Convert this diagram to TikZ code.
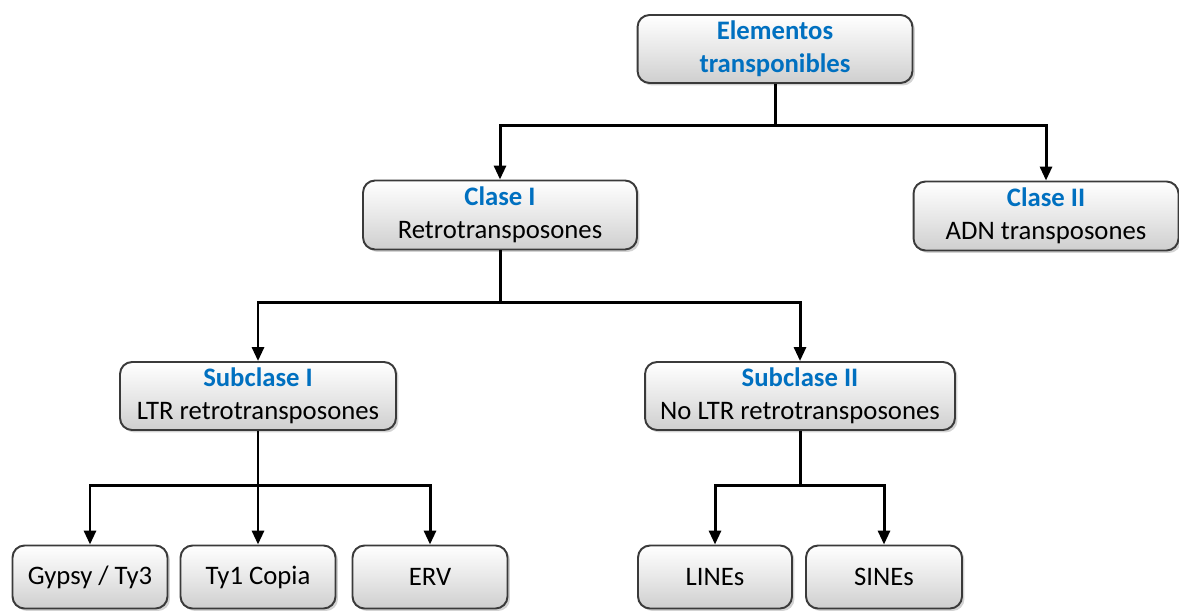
\documentclass[tikz,border=0pt]{standalone}
\usepackage{fontspec}
\setmainfont{Carlito}
\usetikzlibrary{arrows.meta,shadows}

\definecolor{titleblue}{HTML}{0070C0}
\definecolor{boxline}{HTML}{3A3A3A}

\tikzset{
  tebox/.style={draw=boxline, line width=1.1pt, rounded corners=0.24cm,
    top color=white, bottom color=gray!38, middle color=gray!18,
    drop shadow={shadow xshift=0.05cm, shadow yshift=-0.05cm, opacity=0.35},
    align=center, inner sep=0pt, font=\fontsize{15.2}{18.8}\selectfont},
  link/.style={line width=1.7pt, black},
  arrow/.style={link, -{Triangle[length=0.28cm, width=0.24cm]}}
}
\newcommand{\tetitle}[1]{\textbf{\color{titleblue}#1}}

\begin{document}
\begin{tikzpicture}[x=0.02cm, y=-0.02cm]
    \useasboundingbox (0,0) rectangle (1179,611);

    % nodos
    \node[tebox, minimum width=5.5cm, minimum height=1.36cm] (elem) at (775,49) {\tetitle{Elementos}\\\tetitle{transponibles}};
    \node[tebox, minimum width=5.48cm, minimum height=1.38cm] (claseI) at (500,215) {\tetitle{Clase I}\\Retrotransposones};
    \node[tebox, minimum width=5.3cm, minimum height=1.38cm] (claseII) at (1046,216) {\tetitle{Clase II}\\ADN transposones};
    \node[tebox, minimum width=5.52cm, minimum height=1.36cm] (subI) at (258,396) {\tetitle{Subclase I}\\LTR retrotransposones};
    \node[tebox, minimum width=6.2cm, minimum height=1.36cm] (subII) at (800,396) {\tetitle{Subclase II}\\No LTR retrotransposones};
    \node[tebox, minimum width=3.1cm, minimum height=1.26cm] (gypsy) at (90,577) {Gypsy / Ty3};
    \node[tebox, minimum width=3.1cm, minimum height=1.26cm] (copia) at (258,577) {Ty1 Copia};
    \node[tebox, minimum width=3.1cm, minimum height=1.26cm] (erv) at (430,577) {ERV};
    \node[tebox, minimum width=3.08cm, minimum height=1.26cm] (lines) at (715,577) {LINEs};
    \node[tebox, minimum width=3.12cm, minimum height=1.26cm] (sines) at (884,577) {SINEs};

    % conectores
    \draw[link] (elem.south) -- ++(0,42) coordinate (j1);
    \draw[arrow] (j1) -| (claseI.north);
    \draw[arrow] (j1) -| (claseII.north);

    \draw[link] (claseI.south) -- ++(0,52) coordinate (j2);
    \draw[arrow] (j2) -| (subI.north);
    \draw[arrow] (j2) -| (subII.north);

    \draw[link] (subI.south) -- ++(0,55) coordinate (j3);
    \draw[arrow] (j3) -| (gypsy.north);
    \draw[arrow] (j3) -- (copia.north);
    \draw[arrow] (j3) -| (erv.north);

    \draw[link] (subII.south) -- ++(0,55) coordinate (j4);
    \draw[arrow] (j4) -| (lines.north);
    \draw[arrow] (j4) -| (sines.north);
\end{tikzpicture}
\end{document}
